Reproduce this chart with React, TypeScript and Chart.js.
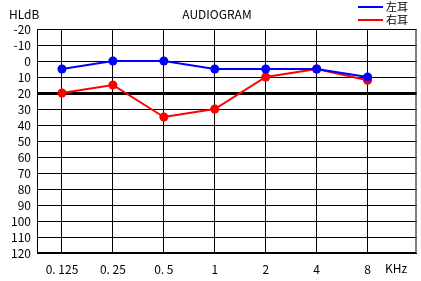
import React, { useEffect, useRef } from "react";
import { Chart, registerables } from "chart.js";

Chart.register(...registerables);

const frequencies = ["0. 125", "0. 25", "0. 5", "1", "2", "4", "8"];
const leftEar = [5, 0, 0, 5, 5, 5, 10];
const rightEar = [20, 15, 35, 30, 10, 5, 12];
const yTicks = [-20, -10, 0, 10, 20, 30, 40, 50, 60, 70, 80, 90, 100, 110, 120];
const seriesNames = ["左耳", "右耳"];
const title = "AUDIOGRAM";
const yUnit = "HLdB";
const xUnit = "KHz";

const FONT = "'Noto Sans CJK JP', sans-serif";

const overlay = {
  id: "overlay",
  afterDraw(chart: any) {
    const ctx = chart.ctx;
    const area = chart.chartArea;
    ctx.save();
    ctx.fillStyle = "#000";
    ctx.font = `12px ${FONT}`;
    ctx.textBaseline = "middle";
    ctx.textAlign = "left";
    ctx.fillText(yUnit, 9, 14);
    ctx.textAlign = "center";
    ctx.fillText(title, 217, 14);
    ctx.fillText(xUnit, 396, 268);
    // legend
    const colors = ["#0000ff", "#ff0000"];
    ctx.font = `11px ${FONT}`;
    ctx.textAlign = "left";
    seriesNames.forEach((n, i) => {
      const y = 7 + i * 13;
      ctx.strokeStyle = colors[i];
      ctx.lineWidth = 2;
      ctx.beginPath();
      ctx.moveTo(358, y);
      ctx.lineTo(383, y);
      ctx.stroke();
      ctx.fillText(n, 386, y);
    });
    // frame
    ctx.strokeStyle = "#000";
    ctx.lineWidth = 1;
    ctx.strokeRect(area.left + 0.5, area.top + 0.5, area.right - area.left - 1, area.bottom - area.top - 1);
    ctx.restore();
  },
};

export default function App() {
  const ref = useRef<HTMLCanvasElement>(null);
  useEffect(() => {
    document.body.style.margin = "0";
    const chart = new Chart(ref.current!, {
      type: "line",
      data: {
        datasets: [
          {
            label: seriesNames[0],
            data: leftEar.map((v, i) => ({ x: i, y: v })),
            borderColor: "#0000ff",
            backgroundColor: "#0000ff",
            borderWidth: 2,
            pointRadius: 4.5,
            pointBorderWidth: 0,
          },
          {
            label: seriesNames[1],
            data: rightEar.map((v, i) => ({ x: i, y: v })),
            borderColor: "#ff0000",
            backgroundColor: "#ff0000",
            borderWidth: 2,
            pointRadius: 4.5,
            pointBorderWidth: 0,
          },
        ],
      },
      plugins: [overlay],
      options: {
        responsive: false,
        animation: false,
        layout: { padding: { top: 29, left: 0, right: 4, bottom: 0 } },
        plugins: { legend: { display: false }, title: { display: false }, tooltip: { enabled: false } },
        scales: {
          x: {
            type: "linear",
            min: -0.49,
            max: 6.96,
            afterBuildTicks: (s: any) => {
              s.ticks = frequencies.map((_, i) => ({ value: i }));
            },
            afterFit: (s: any) => {
              s.height = 28;
            },
            grid: { color: "#000", lineWidth: 1, drawTicks: false },
            border: { color: "#000" },
            ticks: {
              padding: 9,
              color: "#000",
              font: { family: FONT, size: 12 },
              maxRotation: 0,
              autoSkip: false,
              callback: (v: any) => frequencies[v] ?? "",
            },
          },
          y: {
            reverse: true,
            min: -20,
            max: 120,
            afterBuildTicks: (s: any) => {
              s.ticks = yTicks.map((v) => ({ value: v }));
            },
            afterFit: (s: any) => {
              s.width = 37;
            },
            grid: {
              color: "#000",
              lineWidth: (c: any) => (c.tick && c.tick.value === 20 ? 3 : 1),
              drawTicks: false,
            },
            border: { color: "#000" },
            ticks: {
              padding: 6,
              color: "#000",
              font: { family: FONT, size: 12 },
              autoSkip: false,
            },
          },
        },
      },
    });
    return () => chart.destroy();
  }, []);
  return <canvas ref={ref} width={421} height={281} style={{ display: "block" }} />;
}
